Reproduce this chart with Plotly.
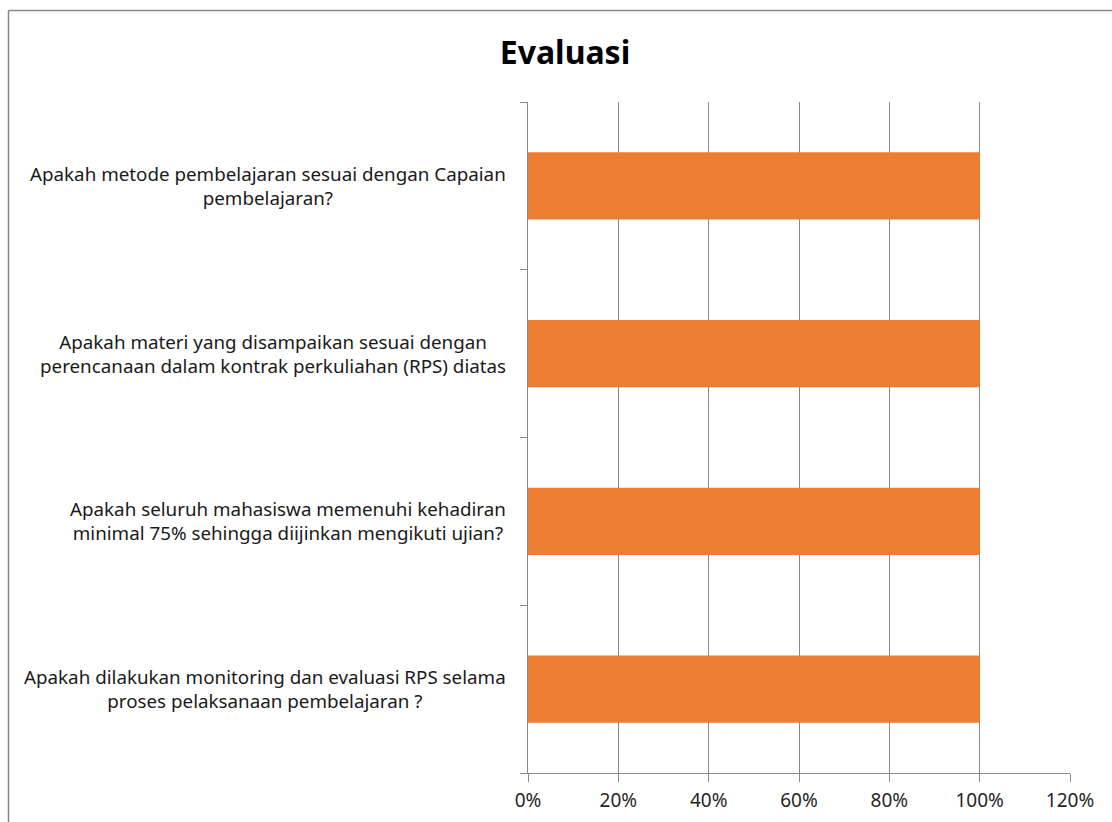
import plotly.graph_objects as go

categories = [
    "Apakah metode pembelajaran sesuai dengan Capaian<br>pembelajaran?",
    "Apakah materi yang disampaikan sesuai dengan<br>perencanaan dalam kontrak perkuliahan (RPS) diatas",
    "Apakah seluruh mahasiswa memenuhi kehadiran<br>minimal 75% sehingga diijinkan mengikuti ujian?",
    "Apakah dilakukan monitoring dan evaluasi RPS selama<br>proses pelaksanaan pembelajaran ?",
]
values = [1.0, 1.0, 1.0, 1.0]
x_ticks = [0, 0.2, 0.4, 0.6, 0.8, 1.0, 1.2]
x_tick_labels = ["0%", "20%", "40%", "60%", "80%", "100%", "120%"]

FONT = "Noto Sans"
GRID = "#8a8a8a"

W, H = 1112, 822
L, R, T, B = 528, 42, 102, 49
PW = W - L - R
PH = H - T - B

fig = go.Figure()
fig.add_trace(go.Bar(
    y=list(range(len(categories))),
    x=values,
    orientation="h",
    width=0.4,
    marker=dict(color="#ED7D31", line=dict(width=0)),
    hoverinfo="x",
))

for i, c in enumerate(categories):
    fig.add_annotation(
        x=-0.037, xref="paper", y=i, yref="y",
        text=c, showarrow=False, xanchor="right", yanchor="middle",
        align="center", font=dict(family=FONT, size=18.8, color="#1a1a1a"),
    )

fig.update_layout(
    width=W, height=H,
    margin=dict(l=L, r=R, t=T, b=B, autoexpand=False),
    paper_bgcolor="white", plot_bgcolor="white",
    showlegend=False,
    title=dict(text="<b>Evaluasi</b>", x=565 / W, xanchor="center",
               y=1 - 53 / H, yanchor="middle",
               font=dict(family=FONT, size=32, color="black")),
    font=dict(family=FONT),
    xaxis=dict(range=[0, 1.2], tickvals=x_ticks, ticktext=x_tick_labels,
               showgrid=True, gridcolor=GRID, gridwidth=1,
               showline=True, linecolor=GRID, linewidth=1,
               ticks="outside", ticklen=8, tickcolor=GRID,
               ticklabelstandoff=2, automargin=False,
               tickfont=dict(family=FONT, size=19, color="#262626"),
               zeroline=False, fixedrange=True),
    yaxis=dict(range=[3.5, -0.5], tickvals=[-0.5, 0.5, 1.5, 2.5, 3.5],
               showticklabels=False, showgrid=False, automargin=False,
               showline=True, linecolor=GRID, linewidth=1,
               ticks="outside", ticklen=7, tickcolor=GRID,
               zeroline=False, fixedrange=True),
)

# chart border (outer frame): top and left edges
bx = (8.5 - L) / PW
by = (PH + T - 10.5) / PH
fig.add_shape(type="line", xref="paper", yref="paper",
              x0=bx, x1=(W - L) / PW, y0=by, y1=by,
              line=dict(color="#868686", width=1.5))
fig.add_shape(type="line", xref="paper", yref="paper",
              x0=bx, x1=bx, y0=by, y1=-B / PH,
              line=dict(color="#868686", width=1.5))

fig.write_html(
    "out.html",
    config={"displayModeBar": False},
    post_script="document.body.style.margin='0';document.body.style.overflow='hidden';",
)
